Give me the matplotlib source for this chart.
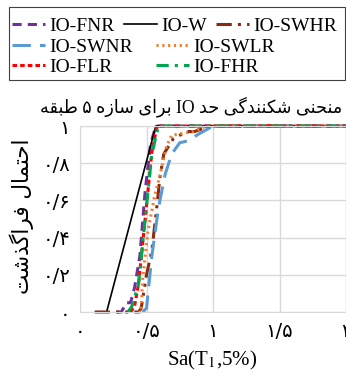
import matplotlib
matplotlib.use("Agg")
import matplotlib.pyplot as plt
from matplotlib.patches import Rectangle

# fragility curves, IO limit state, 5-storey frame
names = ["IO-FNR", "IO-W", "IO-SWHR", "IO-SWNR", "IO-SWLR", "IO-FLR", "IO-FHR"]

x_fnr = [0.28, 0.31, 0.35, 0.38, 0.41, 0.45, 0.49, 0.53, 0.57, 2.0]
y_fnr = [0.0, 0.0, 0.05, 0.05, 0.13, 0.30, 0.65, 0.90, 1.0, 1.0]
x_w = [0.20, 0.57, 2.0]
y_w = [0.0, 1.0, 1.0]
x_swhr = [0.11, 0.44, 0.46, 0.50, 0.54, 0.58, 0.60, 0.63, 0.70, 0.80, 0.86, 0.98, 2.0]
y_swhr = [0.0, 0.0, 0.02, 0.20, 0.33, 0.58, 0.72, 0.85, 0.93, 0.97, 0.97, 1.0, 1.0]
x_swnr = [0.47, 0.50, 0.54, 0.59, 0.64, 0.69, 0.75, 0.81, 0.90, 0.95, 1.0, 2.0]
y_swnr = [0.0, 0.02, 0.30, 0.56, 0.74, 0.85, 0.91, 0.92, 0.96, 0.98, 1.0, 1.0]
x_swlr = [0.44, 0.46, 0.47, 0.51, 0.56, 0.60, 0.65, 0.69, 0.77, 0.85, 0.95, 2.0]
y_swlr = [0.0, 0.0, 0.17, 0.43, 0.62, 0.73, 0.89, 0.95, 0.96, 0.97, 1.0, 1.0]
x_flr = [0.38, 0.41, 0.44, 0.49, 0.54, 0.58, 2.0]
y_flr = [0.0, 0.03, 0.15, 0.50, 0.86, 1.0, 1.0]
x_fhr = [0.36, 0.39, 0.44, 0.49, 0.54, 0.59, 2.0]
y_fhr = [0.0, 0.03, 0.15, 0.50, 0.85, 1.0, 1.0]

xs = [x_fnr, x_w, x_swhr, x_swnr, x_swlr, x_flr, x_fhr]
ys = [y_fnr, y_w, y_swhr, y_swnr, y_swlr, y_flr, y_fhr]
colors = ["#7030A0", "#000000", "#8B2A0E", "#5B9BD5", "#ED7D31", "#FF0000", "#00A64F"]
dashes = [(3, 2), None, (5, 2, 1, 2, 1, 2), (6, 3), (0.7, 1.2), (1.5, 1), (4, 2, 1, 2)]
widths = [2.2, 1.2, 2.2, 2.2, 2.2, 2.2, 2.2]

xticks = [0, 0.5, 1, 1.5, 2]
xticklabels = ["۰", "۰/۵", "۱", "۱/۵", "۲"]
yticks = [0, 0.2, 0.4, 0.6, 0.8, 1]
yticklabels = ["۰", "۰/۲", "۰/۴", "۰/۶", "۰/۸", "۱"]

title = "منحنی شکنندگی حد IO برای سازه ۵ طبقه"
ylabel = "احتمال فراگذشت"

# no bidi/reshaper available -> shape the persian letters by hand
FORMS = {
    "ا": ("\uFE8D", "\uFE8E", None, None),
    "ب": ("\uFE8F", "\uFE90", "\uFE91", "\uFE92"),
    "ت": ("\uFE95", "\uFE96", "\uFE97", "\uFE98"),
    "ح": ("\uFEA1", "\uFEA2", "\uFEA3", "\uFEA4"),
    "د": ("\uFEA9", "\uFEAA", None, None),
    "ذ": ("\uFEAB", "\uFEAC", None, None),
    "ر": ("\uFEAD", "\uFEAE", None, None),
    "ز": ("\uFEAF", "\uFEB0", None, None),
    "س": ("\uFEB1", "\uFEB2", "\uFEB3", "\uFEB4"),
    "ش": ("\uFEB5", "\uFEB6", "\uFEB7", "\uFEB8"),
    "ط": ("\uFEC1", "\uFEC2", "\uFEC3", "\uFEC4"),
    "ف": ("\uFED1", "\uFED2", "\uFED3", "\uFED4"),
    "ق": ("\uFED5", "\uFED6", "\uFED7", "\uFED8"),
    "ل": ("\uFEDD", "\uFEDE", "\uFEDF", "\uFEE0"),
    "م": ("\uFEE1", "\uFEE2", "\uFEE3", "\uFEE4"),
    "ن": ("\uFEE5", "\uFEE6", "\uFEE7", "\uFEE8"),
    "ه": ("\uFEE9", "\uFEEA", "\uFEEB", "\uFEEC"),
    "ک": ("\uFB8E", "\uFB8F", "\uFB90", "\uFB91"),
    "گ": ("\uFB92", "\uFB93", "\uFB94", "\uFB95"),
    "ی": ("\uFBFC", "\uFBFD", "\uFBFE", "\uFBFF"),
}


def shape_word(w):
    out = []
    for i, c in enumerate(w):
        f = FORMS[c]
        prev = w[i - 1] if i > 0 else None
        nxt = w[i + 1] if i < len(w) - 1 else None
        jp = prev in FORMS and FORMS[prev][2] is not None
        jn = nxt in FORMS and f[2] is not None
        if jp and jn:
            out.append(f[3])
        elif jp:
            out.append(f[1])
        elif jn:
            out.append(f[2])
        else:
            out.append(f[0])
    return "".join(reversed(out))


def rtl(text):
    words = [shape_word(w) if w[0] in FORMS else w for w in text.split(" ")]
    return " ".join(reversed(words))


plt.rcParams["mathtext.fontset"] = "stix"

fig = plt.figure(figsize=(3.46, 3.78), dpi=100)
ax = fig.add_axes([80 / 346, 66 / 378, 266 / 346, 186 / 378])

lines = []
for x, y, c, d, lw, n in zip(xs, ys, colors, dashes, widths, names):
    ln, = ax.plot(x, y, color=c, lw=lw, label=n, clip_on=False)
    if d is not None:
        ln.set_dashes(d)
    lines.append(ln)

ax.set_xlim(0, 2)
ax.set_ylim(0, 1)
ax.set_xticks(xticks)
ax.set_xticklabels(xticklabels, family="DejaVu Sans", fontsize=14)
ax.set_yticks(yticks)
ax.set_yticklabels(yticklabels, family="DejaVu Sans", fontsize=14)
ax.tick_params(length=0, pad=7)
ax.grid(color="#d9d9d9", lw=1)
ax.set_axisbelow(True)
for s in ax.spines.values():
    s.set_color("#d9d9d9")

fig.text(191 / 346, 1 - 107 / 378, rtl(title), ha="center", va="center",
         family=["Liberation Serif", "DejaVu Sans"], fontsize=12.7)
fig.text(22 / 346, 1 - 216 / 378, rtl(ylabel), ha="center", va="center",
         rotation=90, family="DejaVu Sans", fontsize=15.5)
fig.text(212 / 346, 1 - 360 / 378, "Sa(T$_1$,5%)", ha="center", va="center",
         family="Liberation Serif", fontsize=15)

# legend: 3 entries on the first row, 2+2 below it, inside one frame
lkw = dict(frameon=False, handlelength=1.7, handletextpad=0.2,
           borderaxespad=0, borderpad=0.1, labelspacing=0.15,
           prop={"family": "Liberation Serif", "size": 14})
leg1 = fig.legend([lines[0], lines[1], lines[2]], names[:3], ncol=3,
                  loc="upper left", bbox_to_anchor=(10 / 346, 1 - 15 / 378),
                  columnspacing=0.5, **lkw)
leg2 = fig.legend([lines[3], lines[5], lines[4], lines[6]],
                  [names[3], names[5], names[4], names[6]], ncol=2,
                  loc="upper left", bbox_to_anchor=(10 / 346, 1 - 36 / 378),
                  columnspacing=1.2, **lkw)
fig.patches.append(Rectangle((9 / 346, 1 - 80 / 378), 336 / 346, 73 / 378,
                             transform=fig.transFigure, fill=False,
                             edgecolor="#404040", lw=0.8))

fig.savefig("out.png", dpi=100)
